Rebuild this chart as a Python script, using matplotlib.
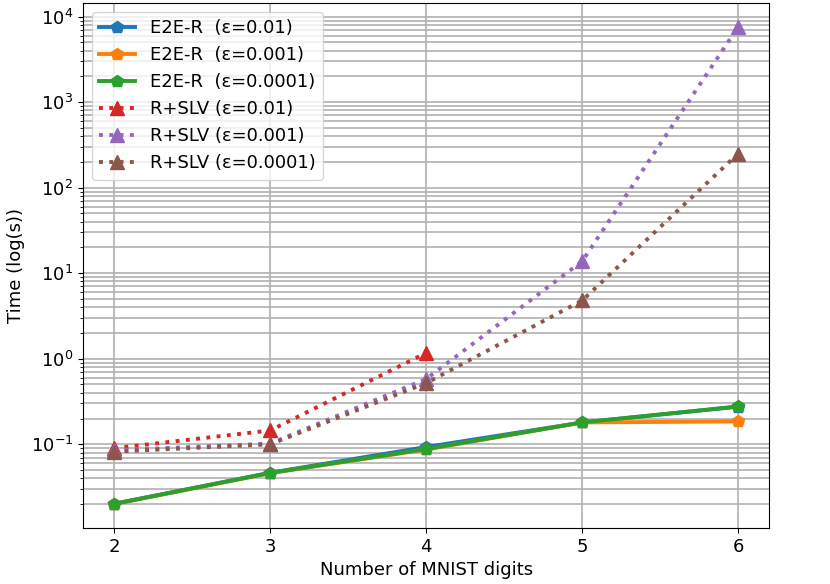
import matplotlib
matplotlib.use("Agg")
import matplotlib.pyplot as plt
import numpy as np

digits = [2, 3, 4, 5, 6]

# E2E-R times (s)
e2e_001 = [0.0202, 0.0465, 0.093, 0.18, 0.275]
e2e_0001 = [0.0200, 0.0460, 0.087, 0.18, 0.185]
e2e_00001 = [0.0201, 0.0462, 0.088, 0.18, 0.277]

# R+SLV times (s), the 0.01 run stops at 4 digits
slv_digits_001 = [2, 3, 4]
slv_001 = [0.090, 0.145, 1.17]
slv_0001 = [0.085, 0.102, 0.58, 13.8, 7600]
slv_00001 = [0.082, 0.100, 0.52, 4.8, 250]

plt.rcParams["font.size"] = 13

fig, ax = plt.subplots(figsize=(8.3, 5.84), dpi=100)
fig.subplots_adjust(left=0.1, right=0.927, top=0.995, bottom=0.096)

lw = 2.8
ax.plot(digits, e2e_001, "-p", color="C0", lw=lw, ms=9, label="E2E-R  (ε=0.01)")
ax.plot(digits, e2e_0001, "-p", color="C1", lw=lw, ms=9, label="E2E-R  (ε=0.001)")
ax.plot(digits, e2e_00001, "-p", color="C2", lw=lw, ms=9, label="E2E-R  (ε=0.0001)")
ax.plot(slv_digits_001, slv_001, ":^", color="C3", lw=lw, ms=10, label="R+SLV (ε=0.01)")
ax.plot(digits, slv_0001, ":^", color="C4", lw=lw, ms=10, label="R+SLV (ε=0.001)")
ax.plot(digits, slv_00001, ":^", color="C5", lw=lw, ms=10, label="R+SLV (ε=0.0001)")

ax.set_yscale("log")
ax.set_xticks(digits)
ax.grid(True, which="both", axis="y", lw=1.2)
ax.grid(True, which="major", axis="x", lw=1.2)
ax.set_xlabel("Number of MNIST digits")
ax.set_ylabel("Time (log(s))")
ax.legend(loc="upper left")

fig.savefig("out.png", dpi=100)
